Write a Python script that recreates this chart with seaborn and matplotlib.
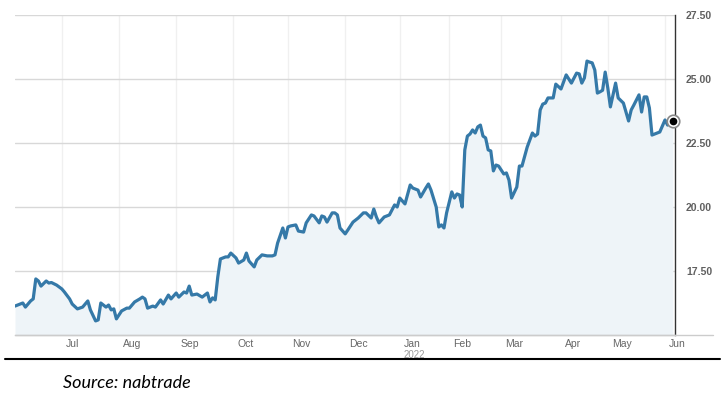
import numpy as np
import pandas as pd
import matplotlib
matplotlib.use("Agg")
import matplotlib.pyplot as plt
import matplotlib.transforms as mtransforms
from matplotlib.lines import Line2D
import seaborn as sns

# --- Data ---
asx_holidays = ['2021-06-14', '2021-12-27', '2021-12-28', '2022-01-03',
                '2022-01-26', '2022-04-15', '2022-04-18', '2022-04-25']

dates = [
    '2021-06-04', '2021-06-07', '2021-06-09', '2021-06-10', '2021-06-15', '2021-06-16',
    '2021-06-17', '2021-06-18', '2021-06-21', '2021-06-23', '2021-06-24', '2021-06-25',
    '2021-06-29', '2021-07-01', '2021-07-02', '2021-07-06', '2021-07-07', '2021-07-09',
    '2021-07-13', '2021-07-15', '2021-07-16', '2021-07-20', '2021-07-21', '2021-07-22',
    '2021-07-26', '2021-07-27', '2021-07-28', '2021-07-29', '2021-07-30', '2021-08-03',
    '2021-08-05', '2021-08-06', '2021-08-10', '2021-08-12', '2021-08-13', '2021-08-16',
    '2021-08-17', '2021-08-19', '2021-08-20', '2021-08-24', '2021-08-25', '2021-08-27',
    '2021-08-30', '2021-09-01', '2021-09-02', '2021-09-06', '2021-09-07', '2021-09-08',
    '2021-09-09', '2021-09-13', '2021-09-15', '2021-09-17', '2021-09-20', '2021-09-21',
    '2021-09-22', '2021-09-23', '2021-09-24', '2021-09-28', '2021-09-29', '2021-09-30',
    '2021-10-04', '2021-10-05', '2021-10-07', '2021-10-08', '2021-10-11', '2021-10-13',
    '2021-10-14', '2021-10-18', '2021-10-20', '2021-10-22', '2021-10-25', '2021-10-26',
    '2021-10-28', '2021-10-29', '2021-11-01', '2021-11-02', '2021-11-04', '2021-11-05',
    '2021-11-09', '2021-11-10', '2021-11-12', '2021-11-15', '2021-11-17', '2021-11-18',
    '2021-11-19', '2021-11-22', '2021-11-24', '2021-11-25', '2021-11-26', '2021-11-29',
    '2021-12-01', '2021-12-02', '2021-12-06', '2021-12-08', '2021-12-10', '2021-12-13',
    '2021-12-15', '2021-12-16', '2021-12-17', '2021-12-20', '2021-12-22', '2021-12-24',
    '2021-12-30', '2021-12-31', '2022-01-04', '2022-01-06', '2022-01-10', '2022-01-11',
    '2022-01-13', '2022-01-14', '2022-01-18', '2022-01-19', '2022-01-20', '2022-01-24',
    '2022-01-25', '2022-01-27', '2022-01-28', '2022-01-31', '2022-02-02', '2022-02-03',
    '2022-02-04', '2022-02-07', '2022-02-08', '2022-02-09', '2022-02-10', '2022-02-11',
    '2022-02-14', '2022-02-15', '2022-02-16', '2022-02-17', '2022-02-18', '2022-02-21',
    '2022-02-22', '2022-02-23', '2022-02-24', '2022-02-25', '2022-02-28', '2022-03-02',
    '2022-03-03', '2022-03-04', '2022-03-07', '2022-03-09', '2022-03-10', '2022-03-11',
    '2022-03-15', '2022-03-17', '2022-03-18', '2022-03-21', '2022-03-22', '2022-03-23',
    '2022-03-24', '2022-03-25', '2022-03-29', '2022-03-30', '2022-04-01', '2022-04-04',
    '2022-04-05', '2022-04-07', '2022-04-11', '2022-04-12', '2022-04-13', '2022-04-14',
    '2022-04-19', '2022-04-20', '2022-04-21', '2022-04-22', '2022-04-26', '2022-04-27',
    '2022-04-28', '2022-04-29', '2022-05-02', '2022-05-03', '2022-05-05', '2022-05-06',
    '2022-05-10', '2022-05-12', '2022-05-13', '2022-05-16', '2022-05-18', '2022-05-19',
    '2022-05-20', '2022-05-23', '2022-05-24', '2022-05-25', '2022-05-27', '2022-05-30',
    '2022-06-01', '2022-06-02', '2022-06-03', '2022-06-06',
]

prices = [
    16.13, 16.17, 16.25, 16.09, 16.33, 16.41,
    17.19, 17.11, 16.91, 17.11, 17.03, 17.05,
    16.95, 16.80, 16.68, 16.41, 16.21, 16.02,
    16.09, 16.33, 15.98, 15.55, 15.59, 16.25,
    16.09, 16.17, 15.98, 16.02, 15.63, 15.94,
    16.05, 16.05, 16.29, 16.41, 16.48, 16.41,
    16.05, 16.13, 16.09, 16.37, 16.21, 16.56,
    16.41, 16.64, 16.48, 16.68, 16.64, 16.91,
    16.56, 16.60, 16.48, 16.64, 16.29, 16.45,
    16.37, 17.27, 17.97, 18.05, 18.05, 18.20,
    18.01, 17.81, 17.93, 18.20, 17.89, 17.66,
    17.93, 18.13, 18.09, 18.09, 18.13, 18.59,
    19.18, 18.79, 19.22, 19.26, 19.30, 19.06,
    19.02, 19.38, 19.69, 19.65, 19.38, 19.65,
    19.61, 19.41, 19.77, 19.77, 19.69, 19.18,
    18.95, 19.10, 19.41, 19.57, 19.77, 19.77,
    19.57, 19.92, 19.61, 19.38, 19.61, 19.69,
    20.08, 20.00, 20.35, 20.12, 20.86, 20.74,
    20.66, 20.39, 20.74, 20.90, 20.66, 20.00,
    19.22, 19.30, 19.18, 19.77, 20.59, 20.35,
    20.51, 20.47, 20.00, 22.23, 22.77, 22.85,
    23.01, 22.89, 23.13, 23.20, 22.77, 22.70,
    22.23, 22.19, 21.41, 21.64, 21.60, 21.29,
    21.33, 21.05, 20.35, 20.78, 21.60, 21.60,
    22.34, 22.89, 22.77, 22.85, 23.79, 24.02,
    24.06, 24.26, 24.26, 24.80, 24.61, 24.88,
    25.16, 24.84, 25.23, 25.20, 24.84, 25.04,
    25.70, 25.66, 25.63, 25.35, 24.45, 24.50,
    24.56, 25.27, 24.65, 23.91, 24.84, 24.26,
    24.06, 23.36, 23.79, 23.98, 24.38, 23.71,
    24.30, 24.30, 23.87, 22.81, 22.89, 22.93,
    23.40, 23.20, 23.32, 23.36,
]

month_labels = ['Jul', 'Aug', 'Sep', 'Oct', 'Nov', 'Dec',
                'Jan', 'Feb', 'Mar', 'Apr', 'May', 'Jun']
year_label = '2022'
y_ticks = [17.5, 20.0, 22.5, 25.0, 27.5]

# --- Trading-day axis (ordinal, like the nabtrade chart) ---
cal = pd.bdate_range('2021-06-04', '2022-06-06', freq='C', holidays=asx_holidays)
day_no = pd.Series(np.arange(len(cal)), index=cal)
df = pd.DataFrame({'date': pd.to_datetime(dates), 'price': prices})
df['pos'] = cal.get_indexer(df['date'])

first_days = day_no.groupby(cal.to_period('M')).first()
month_pos = first_days.values[1:]  # skip June 2021
jan_pos = first_days[pd.Period('2022-01', 'M')]

# --- Plot ---
sns.set_style("white")
plt.rcParams['font.family'] = ['Liberation Sans', 'DejaVu Sans']

fig = plt.figure(figsize=(7.21, 4.0), dpi=100)
ax = fig.add_axes([15 / 721, 65 / 400, 660 / 721, 320 / 400])

ax.fill_between(df['pos'], df['price'], 15, color='#eef4f8', lw=0, zorder=1)
sns.lineplot(data=df, x='pos', y='price', ax=ax, color='#3579a8', lw=2.3, zorder=3)

# last price marker
last = df.iloc[-1]
ax.plot(last['pos'], last['price'], 'o', ms=9, mfc='white', mec='#888888', mew=1.2,
        zorder=5, clip_on=False)
ax.plot(last['pos'], last['price'], 'o', ms=4.5, mfc='black', mec='black', zorder=6,
        clip_on=False)

ax.set_xlim(0, 253.85)
ax.set_ylim(15, 27.5)

ax.set_yticks(y_ticks)
ax.set_yticklabels([f'{v:.2f}' for v in y_ticks])
ax.yaxis.tick_right()
ax.tick_params(axis='y', length=0, pad=8, labelsize=7.5, labelcolor='#606060')
for lab in ax.get_yticklabels():
    lab.set_fontweight('bold')
ax.grid(axis='y', color='#d8d8d8', lw=1)

ax.set_xticks(month_pos)
ax.set_xticklabels(month_labels)
ax.tick_params(axis='x', length=9, width=1, color='#eeeeee', pad=-6,
               labelsize=7.5, labelcolor='#666666')
offset = mtransforms.ScaledTranslation(3 / 72, 0, fig.dpi_scale_trans)
for lab in ax.get_xticklabels():
    lab.set_ha('left')
    lab.set_transform(lab.get_transform() + offset)
ax.grid(axis='x', color='#f0f0f0', lw=1)
ax.set_axisbelow(True)

# year under January
ax.annotate(year_label, xy=(jan_pos, 0), xycoords=('data', 'axes fraction'),
            xytext=(3, -11), textcoords='offset points', ha='left', va='top',
            fontsize=7, color='#999999')

ax.set_xlabel('')
ax.set_ylabel('')
for side in ['top', 'left']:
    ax.spines[side].set_visible(False)
ax.spines['right'].set_color('#333333')
ax.spines['right'].set_linewidth(1)
ax.spines['bottom'].set_color('#cccccc')
ax.spines['bottom'].set_linewidth(1)

# baseline extends past the price axis, then the page rule and source note
fig.add_artist(Line2D([15 / 721, 713 / 721], [65 / 400, 65 / 400], color='#cccccc', lw=1))
fig.add_artist(Line2D([5 / 721, 720 / 721], [41 / 400, 41 / 400], color='black', lw=1.5,
                      zorder=10))
fig.text(63 / 721, 17 / 400, 'Source: nabtrade', fontsize=13, style='italic',
         family=['Lato', 'DejaVu Sans'], va='center', ha='left', color='black')

fig.savefig('out.png', dpi=100)
